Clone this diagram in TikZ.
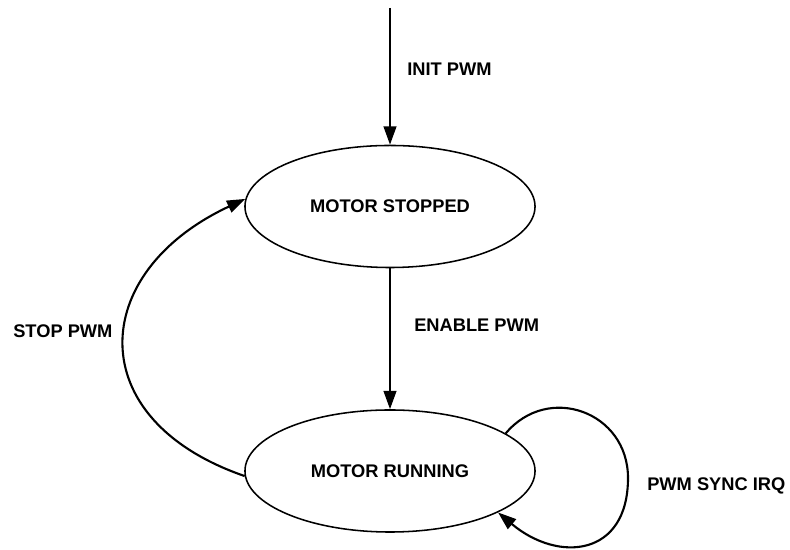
\documentclass[tikz,border=0pt]{standalone}
\usepackage{fontspec}
\setmainfont{Liberation Sans}
\usepackage{tikz}
\usetikzlibrary{arrows.meta,shapes.geometric}

\begin{document}
\begin{tikzpicture}[x=0.025cm, y=0.025cm,
  font=\fontsize{13}{15.6}\selectfont\bfseries,
  state/.style={ellipse, draw, line width=1.1pt, minimum width=7.25cm,
    minimum height=3.05cm, inner sep=0pt},
  trans/.style={line width=1.5pt, -{Triangle[length=13pt,width=9pt]}},
  lab/.style={anchor=west, inner sep=0pt}]

\useasboundingbox (0,0) rectangle (790,550);

% ---------------------------------------------------------------- states
\node[state] (stopped) at (390,343.5) {MOTOR STOPPED};
\node[state] (running) at (390,79) {MOTOR RUNNING};

% ---------------------------------------------------------- transitions
\coordinate (start) at (390,542);
\draw[trans] (start) -- (stopped);
\node[lab] (initlab) at (407,481) {INIT PWM};

\draw[trans] (stopped) -- (running);
\node[lab] (enablelab) at (414,225) {ENABLE PWM};

\draw[trans] (running.182) to[out=161, in=205, looseness=1.6] (stopped.177);
\node[lab] (stoplab) at (13,219) {STOP PWM};

% self loop on the running state
\coordinate (loopright) at (628,72);
\draw[trans] (running.18) to[out=50, in=90, looseness=1.3] (loopright)
  to[out=-90, in=-40, looseness=1.5] (running.-21);
\node[lab] (synclab) at (647,64) {PWM SYNC IRQ};

\end{tikzpicture}
\end{document}
